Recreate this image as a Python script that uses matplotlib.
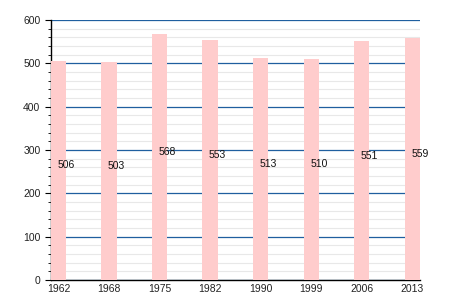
import matplotlib
matplotlib.use("Agg")
import matplotlib.pyplot as plt
from matplotlib.ticker import MultipleLocator

plt.rcParams["font.family"] = ["Liberation Sans", "DejaVu Sans"]

years = ["1962", "1968", "1975", "1982", "1990", "1999", "2006", "2013"]
values = [506, 503, 568, 553, 513, 510, 551, 559]

fig = plt.figure(figsize=(4.5, 3), dpi=100)
ax = fig.add_axes([0.113, 0.0667, 0.82, 0.8667])
ax.set_axisbelow(True)
x = list(range(len(years)))
ax.bar(x, values, width=0.3, color="#ffcccc", zorder=3)
for xi, v in zip(x, values):
    ax.text(xi - 0.02, v / 2, str(v), ha="left", va="bottom", fontsize=7.5, color="#111111", zorder=4)

ax.set_xlim(-0.15, 7.15)
ax.set_ylim(0, 600)
ax.yaxis.set_major_locator(MultipleLocator(100))
ax.yaxis.set_minor_locator(MultipleLocator(20))
ax.grid(which="minor", axis="y", color="#e8e8e8", linewidth=0.8)
ax.grid(which="major", axis="y", color="#1f5f9f", linewidth=0.9)
ax.set_xticks(x)
ax.set_xticklabels(years)
ax.tick_params(axis="x", length=0, labelsize=7.5, pad=3, labelcolor="#222222")
ax.tick_params(axis="y", which="major", length=4, labelsize=7.5, labelcolor="#222222")
ax.tick_params(axis="y", which="minor", length=2.5)
for s in ["top", "right"]:
    ax.spines[s].set_visible(False)
ax.spines["left"].set_linewidth(1)
ax.spines["bottom"].set_linewidth(1)
fig.savefig("out.png", dpi=100)
